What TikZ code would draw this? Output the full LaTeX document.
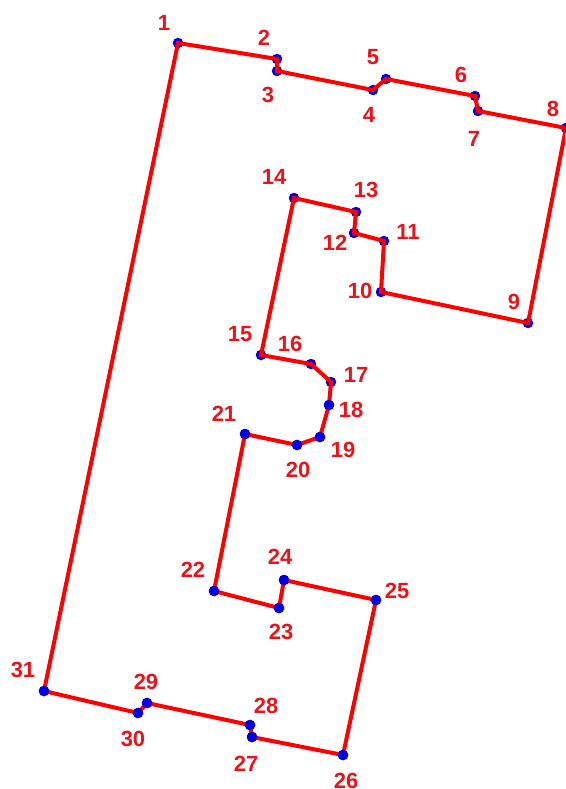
\documentclass[tikz,border=0pt]{standalone}
\usepackage{fontspec}
\setmainfont{Liberation Sans}
\definecolor{lred}{RGB}{232,20,26}
\definecolor{pred}{RGB}{255,0,0}
\definecolor{pblue}{RGB}{0,0,225}
\tikzset{
 pt/.style={circle,fill=pblue,inner sep=0pt,minimum size=10.5pt},
 lab/.style={text=lred,font=\fontsize{22}{22}\selectfont\bfseries,inner sep=0pt},
 edge/.style={draw=pred,line width=4pt,line join=miter}
}
\begin{document}
\begin{tikzpicture}[x=1pt,y=-1pt]
\useasboundingbox (0,0) rectangle (565,789);
\fill[white] (0,0) rectangle (565,789);
\foreach \n/\x/\y in {1/178/43,2/277/59,3/277/71,4/373/90,5/386/79,6/475/96,7/478/111,8/566/128,9/528/323,10/381/292,11/384/241,12/354/233,13/356/212,14/294/198,15/261/355,16/311/364,17/331/382,18/329/405,19/320/437,20/297/445,21/245/434,22/214/591,23/279/608,24/284/580,25/376/600,26/343/755,27/252/737,28/250/725,29/147/703,30/138/713,31/44/691}{
 \node[pt] (p\n) at (\x,\y) {};
 \coordinate (c\n) at (\x,\y);
}
\begin{scope}
\clip (0,0) rectangle (565,789);
\draw[edge] (c1)--(c2)--(c3)--(c4)--(c5)--(c6)--(c7)--(c8)--(c9)--(c10)--(c11)--(c12)--(c13)--(c14)--(c15)--(c16)--(c17)--(c18)--(c19)--(c20)--(c21)--(c22)--(c23)--(c24)--(c25)--(c26)--(c27)--(c28)--(c29)--(c30)--(c31)--cycle;
\end{scope}
\foreach \n/\x/\y in {18/329/405,19/320/437,20/297/445,21/245/434,22/214/591,23/279/608,24/284/580,25/376/600,26/343/755,27/252/737,28/250/725,29/147/703,30/138/713,31/44/691}{
 \node[pt] at (\x,\y) {};
}
\foreach \n/\x/\y in {1/164/23,2/264/38,3/268/95,4/369/115,5/373/57,6/461/75,7/474/139,8/553/109,9/514/302,10/360/291,11/408/232,12/335/243,13/366/190,14/274/177,15/240/334,16/290/344,17/356/375,18/351/410,19/343/450,20/298/470,21/224/414,22/193/570,23/281/632,24/280/557,25/397/591,26/346/781,27/246/764,28/266/706,29/146/682,30/133/739,31/23/670}{
 \node[lab] (t\n) at (\x,\y) {\n};
}
\end{tikzpicture}
\end{document}
